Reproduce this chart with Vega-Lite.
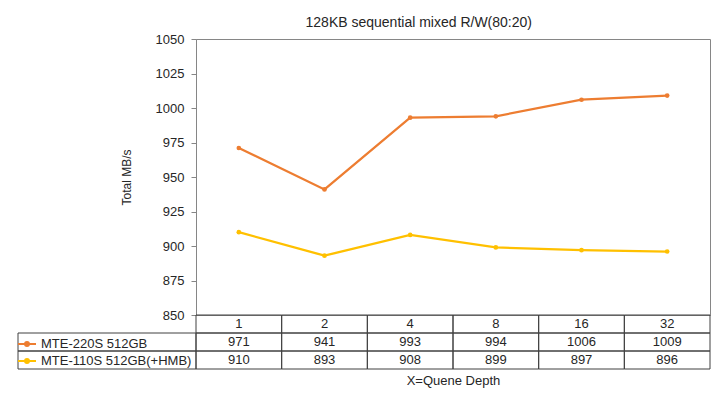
{
  "$schema": "https://vega.github.io/schema/vega-lite/v6.json",
  "padding": {"left": 17, "top": 15, "right": 11, "bottom": 8},
  "autosize": {"type": "pad"},
  "background": "white",
  "title": {"text": "128KB sequential mixed R/W(80:20)", "fontSize": 14, "fontWeight": "normal", "color": "#262626", "font": "Liberation Sans", "anchor": "middle", "dx": 55, "offset": 3},
  "config": {
    "font": "Liberation Sans",
    "view": {"stroke": null},
    "axis": {"labelFont": "Liberation Sans", "titleFont": "Liberation Sans", "labelColor": "#262626", "titleColor": "#262626"}
  },
  "datasets": {
    "perf": [
      {"qd": "1", "series": "MTE-220S 512GB", "value": 971},
      {"qd": "2", "series": "MTE-220S 512GB", "value": 941},
      {"qd": "4", "series": "MTE-220S 512GB", "value": 993},
      {"qd": "8", "series": "MTE-220S 512GB", "value": 994},
      {"qd": "16", "series": "MTE-220S 512GB", "value": 1006},
      {"qd": "32", "series": "MTE-220S 512GB", "value": 1009},
      {"qd": "1", "series": "MTE-110S 512GB(+HMB)", "value": 910},
      {"qd": "2", "series": "MTE-110S 512GB(+HMB)", "value": 893},
      {"qd": "4", "series": "MTE-110S 512GB(+HMB)", "value": 908},
      {"qd": "8", "series": "MTE-110S 512GB(+HMB)", "value": 899},
      {"qd": "16", "series": "MTE-110S 512GB(+HMB)", "value": 897},
      {"qd": "32", "series": "MTE-110S 512GB(+HMB)", "value": 896}
    ]
  },
  "columns": 2,
  "spacing": 0,
  "bounds": "flush",
  "resolve": {"scale": {"color": "shared"}, "legend": {"color": "shared"}},
  "concat": [
    {
      "width": 178, "height": 276,
      "data": {"values": []},
      "mark": "point",
      "encoding": {}
    },
    {
      "width": 514, "height": 276,
      "view": {"stroke": "#868686", "strokeWidth": 1},
      "data": {"name": "perf"},
      "mark": {"type": "line", "strokeWidth": 2.25, "point": {"filled": true, "size": 22}},
      "encoding": {
        "x": {"field": "qd", "type": "ordinal", "scale": {"type": "point", "padding": 0.5, "domain": ["1", "2", "4", "8", "16", "32"]}, "axis": null},
        "y": {"field": "value", "type": "quantitative", "scale": {"domain": [850, 1050], "nice": false, "zero": false},
          "axis": {"values": [850, 875, 900, 925, 950, 975, 1000, 1025, 1050], "format": "d", "grid": false, "tickSize": 5, "tickColor": "#868686", "domainColor": "#868686", "labelFontSize": 13, "labelPadding": 7, "title": "Total MB/s", "titleFontSize": 12, "titleFontWeight": "normal", "titlePadding": 22}},
        "color": {"field": "series", "type": "nominal",
          "scale": {"domain": ["MTE-220S 512GB", "MTE-110S 512GB(+HMB)"], "range": ["#ED7D31", "#FFC000"]},
          "legend": {"orient": "none", "legendX": -1, "legendY": 295, "title": null, "labelFontSize": 13, "labelColor": "#262626", "labelOffset": 4, "rowPadding": 0, "symbolType": "M-1,0H1M-0.22,0A0.22,0.22 0 1,0 0.22,0A0.22,0.22 0 1,0 -0.22,0", "symbolSize": 324, "symbolStrokeWidth": 2}}
      }
    },
    {
      "width": 178, "height": 54,
      "data": {"name": "perf"},
      "transform": [{"filter": "datum.qd == '1'"}],
      "mark": {"type": "rect", "fill": "transparent", "stroke": "#404040", "strokeWidth": 1},
      "encoding": {
        "y": {"field": "series", "type": "nominal", "scale": {"domain": ["hdr", "MTE-220S 512GB", "MTE-110S 512GB(+HMB)"], "paddingInner": 0, "paddingOuter": 0}, "axis": null}
      }
    },
    {
      "width": 514, "height": 54,
      "data": {"name": "perf"},
      "encoding": {
        "x": {"field": "qd", "type": "ordinal", "scale": {"domain": ["1", "2", "4", "8", "16", "32"], "paddingInner": 0, "paddingOuter": 0},
          "axis": {"orient": "bottom", "labels": false, "ticks": false, "domain": false, "title": "X=Quene Depth", "titleFontSize": 13, "titleFontWeight": "normal", "titlePadding": 5}}
      },
      "layer": [
        {
          "mark": {"type": "rect", "fill": "transparent", "stroke": "#404040", "strokeWidth": 1},
          "encoding": {"y": {"field": "series", "type": "nominal", "scale": {"domain": ["hdr", "MTE-220S 512GB", "MTE-110S 512GB(+HMB)"], "paddingInner": 0, "paddingOuter": 0}, "axis": null}}
        },
        {
          "transform": [{"filter": "datum.series == 'MTE-220S 512GB'"}],
          "mark": {"type": "rect", "fill": "transparent", "stroke": "#404040", "strokeWidth": 1},
          "encoding": {"y": {"datum": "hdr", "type": "nominal"}}
        },
        {
          "mark": {"type": "text", "fontSize": 13, "color": "#262626"},
          "encoding": {"y": {"field": "series", "type": "nominal"}, "text": {"field": "value", "type": "quantitative"}}
        },
        {
          "transform": [{"filter": "datum.series == 'MTE-220S 512GB'"}],
          "mark": {"type": "text", "fontSize": 13, "color": "#262626"},
          "encoding": {"y": {"datum": "hdr", "type": "nominal"}, "text": {"field": "qd", "type": "nominal"}}
        }
      ]
    }
  ]
}
